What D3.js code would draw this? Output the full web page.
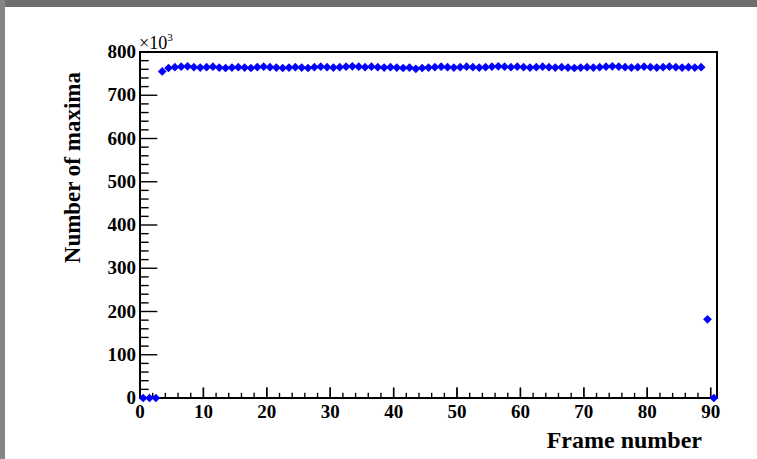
<!DOCTYPE html>
<html>
<head>
<meta charset="utf-8">
<script src="https://cdn.jsdelivr.net/npm/d3@7"></script>
<style>
  html, body { margin: 0; padding: 0; background: #ffffff; }
  svg { display: block; }
</style>
</head>
<body>
<svg id="chart" width="757" height="459"></svg>
<script>
// Number of maxima found per frame, in thousands (bin centres at frame + 0.5)
const frames = d3.range(0, 91);
const maxima = [
  0, 0, 0, 755,
  763, 765, 766, 767, 765, 764, 765, 766, 764, 763,
  764, 765, 764, 763, 765, 766, 765, 764, 763, 764,
  765, 764, 763, 765, 766, 765, 764, 765, 766, 767,
  766, 765, 766, 765, 764, 765, 764, 763, 764, 761,
  763, 764, 765, 766, 765, 764, 765, 766, 765, 764,
  765, 766, 767, 766, 765, 766, 765, 764, 765, 766,
  765, 764, 765, 764, 763, 764, 765, 764, 765, 766,
  767, 766, 765, 764, 765, 766, 765, 764, 765, 766,
  765, 764, 765, 764, 765, 182, 0
];
const xTicks = [0, 10, 20, 30, 40, 50, 60, 70, 80, 90];
const yTicks = [0, 100, 200, 300, 400, 500, 600, 700, 800];

const svg = d3.select("#chart");
const W = 757, H = 459;
const plot = { left: 140, right: 717, top: 52, bottom: 398 };

// canvas frame: dark strip on top and left edges
svg.append("rect").attr("x", 0).attr("y", 0).attr("width", W).attr("height", H).attr("fill", "#ffffff");
svg.append("rect").attr("x", 0).attr("y", 0).attr("width", W).attr("height", 7).attr("fill", "#6e6e6e");
svg.append("rect").attr("x", 0).attr("y", 0).attr("width", 5).attr("height", H).attr("fill", "#858585");

const x = d3.scaleLinear().domain([0, 91]).range([plot.left, plot.right]);
const y = d3.scaleLinear().domain([0, 800]).range([plot.bottom, plot.top]);

const font = "'Liberation Serif', 'Times New Roman', serif";
const yMajor = (plot.right - plot.left) * 0.03;
const xMajor = (plot.bottom - plot.top) * 0.03;

// y axis ticks (major every 100, minor every 20), drawn inward
const yg = svg.append("g");
d3.range(0, 801, 20).forEach(v => {
  const len = v % 100 === 0 ? yMajor : yMajor / 2;
  yg.append("line")
    .attr("x1", plot.left).attr("x2", plot.left + len)
    .attr("y1", y(v)).attr("y2", y(v))
    .attr("stroke", "#000").attr("stroke-width", 1.4);
});
yTicks.forEach(v => {
  yg.append("text")
    .attr("x", plot.left - 4).attr("y", y(v) + 6)
    .attr("text-anchor", "end")
    .attr("font-family", font).attr("font-weight", "bold").attr("font-size", 19)
    .text(v);
});

// x axis ticks (major every 10, minor every 2), drawn inward
const xg = svg.append("g");
d3.range(0, 91, 2).concat(xTicks).forEach(v => {
  const len = v % 10 === 0 ? xMajor : xMajor / 2;
  xg.append("line")
    .attr("x1", x(v)).attr("x2", x(v))
    .attr("y1", plot.bottom).attr("y2", plot.bottom - len)
    .attr("stroke", "#000").attr("stroke-width", 1.4);
});
xTicks.forEach(v => {
  xg.append("text")
    .attr("x", x(v)).attr("y", plot.bottom + 20)
    .attr("text-anchor", "middle")
    .attr("font-family", font).attr("font-weight", "bold").attr("font-size", 19)
    .text(v);
});

// plot frame
svg.append("rect")
  .attr("x", plot.left).attr("y", plot.top)
  .attr("width", plot.right - plot.left).attr("height", plot.bottom - plot.top)
  .attr("fill", "none").attr("stroke", "#000").attr("stroke-width", 2);

// exponent label
const ex = svg.append("text")
  .attr("x", plot.left - 1).attr("y", plot.top - 3)
  .attr("font-family", font).attr("font-size", 18);
ex.append("tspan").text("\u00d710");
ex.append("tspan").attr("dy", -8).attr("font-size", 11).text("3");

// axis titles
svg.append("text")
  .attr("x", plot.right - 15).attr("y", 448)
  .attr("text-anchor", "end")
  .attr("font-family", font).attr("font-weight", "bold").attr("font-size", 24)
  .text("Frame number");
svg.append("text")
  .attr("transform", `translate(80, ${plot.top + 20}) rotate(-90)`)
  .attr("text-anchor", "end")
  .attr("font-family", font).attr("font-weight", "bold").attr("font-size", 23)
  .text("Number of maxima");

// data markers: filled diamonds at bin centres
const sym = d3.symbol().type(d3.symbolSquare).size(38);
svg.append("g").selectAll("path")
  .data(frames)
  .join("path")
  .attr("d", sym)
  .attr("transform", f => `translate(${x(f + 0.5)}, ${y(maxima[f])}) rotate(45)`)
  .attr("fill", "#0000ff");
</script>
</body>
</html>
